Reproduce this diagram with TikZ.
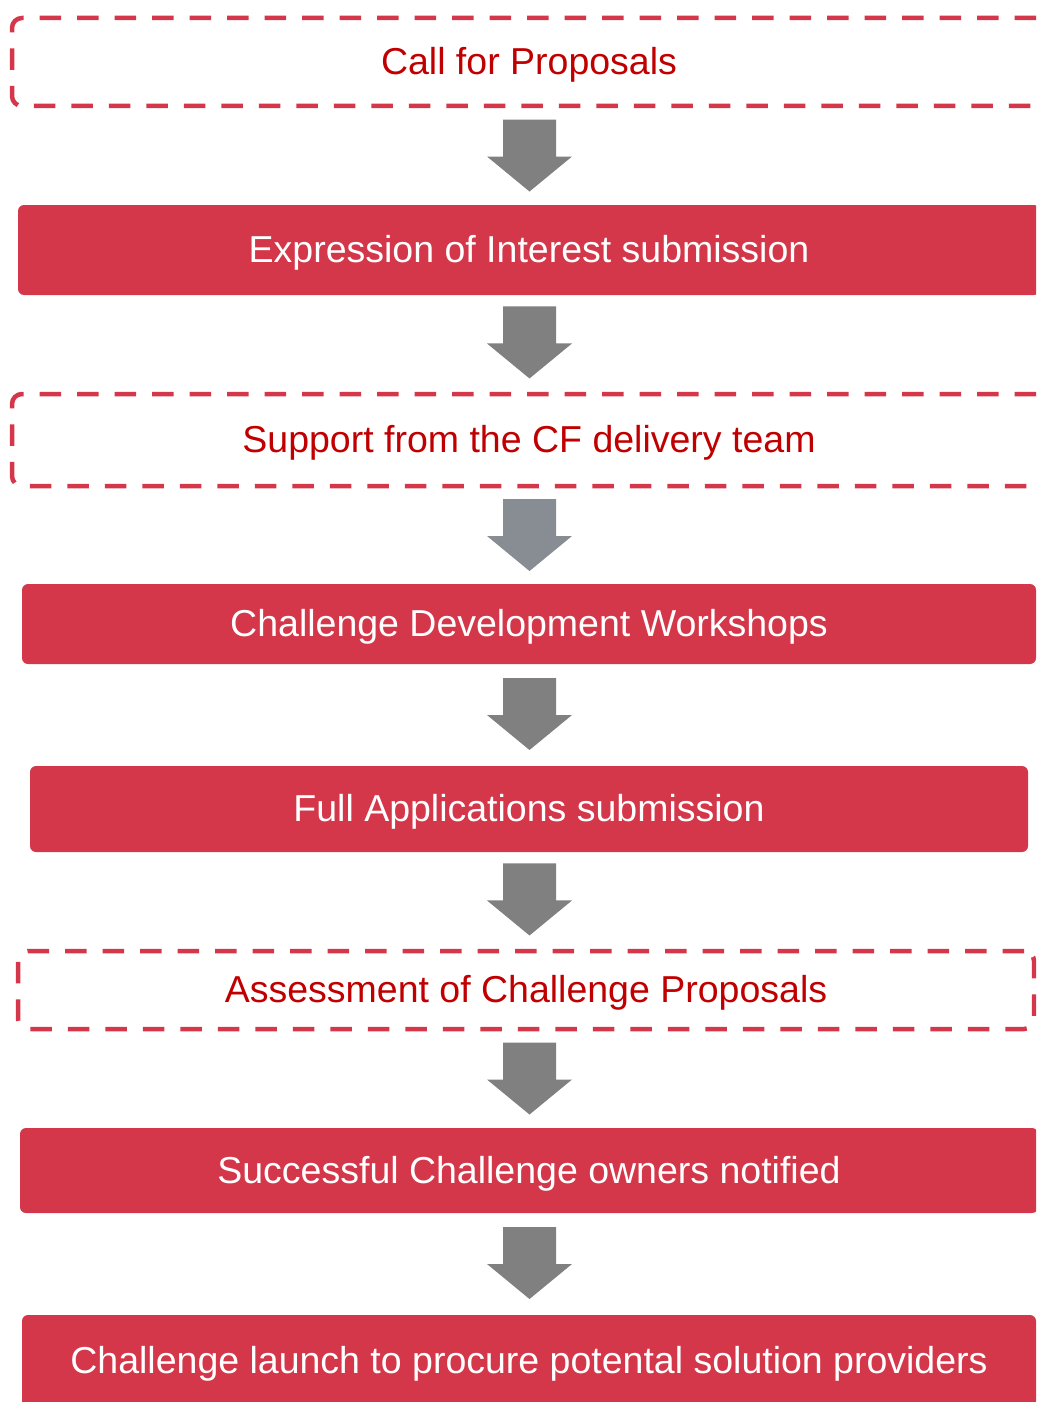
\documentclass[tikz,border=0pt]{standalone}
\usepackage{fontspec}
\setmainfont{Liberation Sans}
\usetikzlibrary{calc}

\definecolor{boxred}{HTML}{D43749}
\definecolor{textred}{HTML}{C00000}
\definecolor{arrowgray}{HTML}{808080}
\definecolor{bluegray}{HTML}{878D93}

% block arrow centred in the gap between two boxes
\newcommand{\flowarrow}[3][arrowgray]{%
  \path let \p1 = ($(axis |- #2.south)!0.5!(axis |- #3.north)$) in
    [fill=#1] (\x1-26.5pt,\y1+37pt) -- (\x1+26.5pt,\y1+37pt) -- (\x1+26.5pt,\y1)
      -- (\x1+42.5pt,\y1) -- (\x1,\y1-35pt) -- (\x1-42.5pt,\y1)
      -- (\x1-26.5pt,\y1) -- cycle;}

\begin{document}
\begin{tikzpicture}[x=1pt,y=1pt,
    dashbox/.style={draw=boxred, line width=4.5pt, dash pattern=on 21.5pt off 16pt,
      rounded corners=10pt, text=textred, inner sep=0pt},
    fillbox/.style={fill=boxred, rounded corners=6pt, text=white, inner sep=0pt},
    every node/.style={font=\fontsize{37.5}{42}\selectfont, text height=33.5pt, text depth=8pt}]
  \path[use as bounding box, clip] (0,0) rectangle (1036,-1402);
  \coordinate (axis) at (529.5,0);

  \node[dashbox, minimum width=1034, minimum height=88] (call) at (529,-62) {Call for Proposals};
  \node[fillbox, minimum width=1022, minimum height=90] (eoi) at (529,-250) {Expression of Interest submission};
  \node[dashbox, minimum width=1034, minimum height=92] (support) at (529,-440) {Support from the CF delivery team};
  \node[fillbox, minimum width=1014, minimum height=80] (workshops) at (529,-624) {Challenge Development Workshops};
  \node[fillbox, minimum width=998, minimum height=86] (fullapp) at (529,-809) {Full Applications submission};
  \node[dashbox, minimum width=1016, minimum height=78] (assess) at (526,-990) {Assessment of Challenge Proposals};
  \node[fillbox, minimum width=1018, minimum height=85] (notified) at (529,-1170.5) {Successful Challenge owners notified};
  \node[fillbox, minimum width=1014, minimum height=92] (launch) at (529,-1361) {Challenge launch to procure potental solution providers};

  \flowarrow{call}{eoi}
  \flowarrow{eoi}{support}
  \flowarrow[bluegray]{support}{workshops}
  \flowarrow{workshops}{fullapp}
  \flowarrow{fullapp}{assess}
  \flowarrow{assess}{notified}
  \flowarrow{notified}{launch}
\end{tikzpicture}
\end{document}
